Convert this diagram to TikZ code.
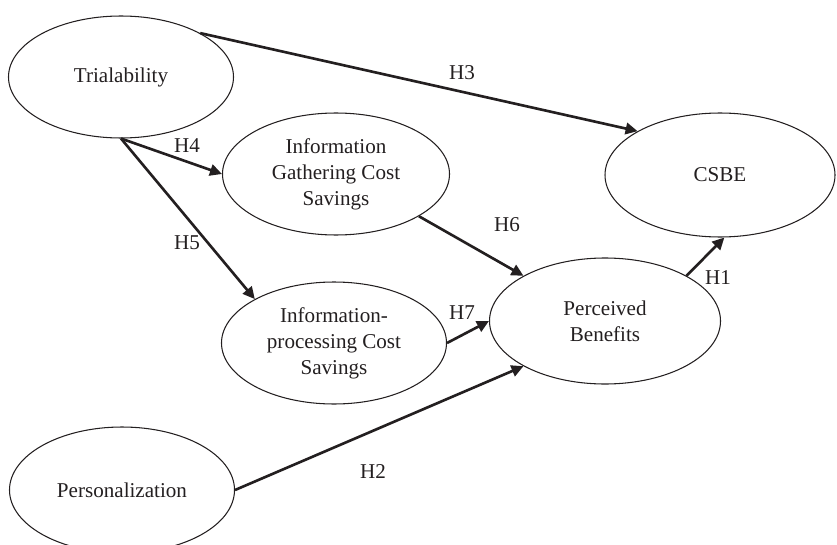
\documentclass[tikz,border=0pt]{standalone}
\usepackage{fontspec}
\setmainfont{Liberation Serif}
\usepackage{xcolor}
\usetikzlibrary{arrows.meta,shapes.geometric}
\definecolor{ink}{HTML}{231F20}
\tikzset{
  construct/.style={draw=ink, ellipse, align=center, text=ink, line width=0.6pt, inner sep=0pt, minimum width=45mm, minimum height=24.4mm, font=\fontsize{12}{14.8}\selectfont},
  path/.style={-{Triangle[length=2.4mm, width=2.3mm]}, line width=1.5pt, draw=ink},
  hyp/.style={text=ink, inner sep=0pt, font=\fontsize{12}{14.8}\selectfont}
}
\begin{document}
\begin{tikzpicture}[x=0.2mm, y=-0.2mm]
  \useasboundingbox (0,0) rectangle (837,545);
  \node[construct] (trial) at (121,77) {Trialability};
  \node[construct, minimum width=45.4mm] (gather) at (336,174) {Information\\Gathering Cost\\Savings};
  \node[construct, minimum width=46mm, minimum height=24.8mm] (csbe) at (720,175) {CSBE};
  \node[construct, minimum width=46.2mm, minimum height=25.2mm] (benefit) at (605,321) {Perceived\\Benefits};
  \node[construct] (process) at (334,343) {Information-\\processing Cost\\Savings};
  \node[construct, minimum height=25.2mm] (person) at (122,490) {Personalization};

  \draw[path] (trial.29) -- (csbe.152);
  \draw[path] (trial.south) -- (gather.west);
  \draw[path] (trial.south) -- (process.151);
  \draw[path] (gather.-27) -- (benefit.151);
  \draw[path] (process.east) -- (benefit.west);
  \draw[path] (person.east) -- (benefit.209);
  \draw[path] (benefit.29) -- (csbe.-86);

  % hypothesis labels
  \node[hyp] (h1) at (718,278) {H1};
  \node[hyp] (h2) at (373,472) {H2};
  \node[hyp] (h3) at (462,73) {H3};
  \node[hyp] (h4) at (187,146) {H4};
  \node[hyp] (h5) at (187,243) {H5};
  \node[hyp] (h6) at (507,225) {H6};
  \node[hyp] (h7) at (462,313) {H7};
\end{tikzpicture}
\end{document}
